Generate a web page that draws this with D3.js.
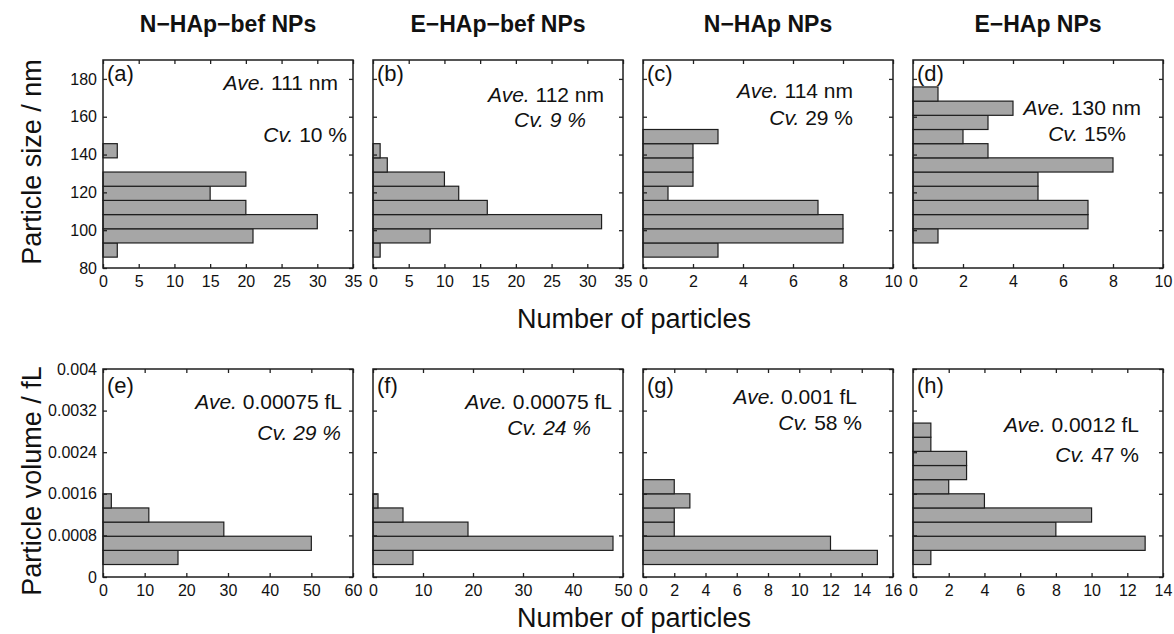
<!DOCTYPE html>
<html>
<head>
<meta charset="utf-8">
<script src="https://cdn.jsdelivr.net/npm/d3@7"></script>
<style>
  body { margin: 0; background: #fff; }
  svg text { font-family: "Liberation Sans", Arial, sans-serif; fill: #111; }
</style>
</head>
<body>
<svg id="chart" width="1174" height="634"></svg>
<script>
// ---- data ----
const titles = ["N\u2212HAp\u2212bef NPs", "E\u2212HAp\u2212bef NPs", "N\u2212HAp NPs", "E\u2212HAp NPs"];
const letters = ["(a)", "(b)", "(c)", "(d)", "(e)", "(f)", "(g)", "(h)"];

// size histograms, 7.5 nm bins starting at 85.75 nm (counts from the bottom bin up)
const sizeBinStart = 85.75, sizeBinWidth = 7.5;
const sizeCountsA = [2, 21, 30, 20, 15, 20, 0, 2];
const sizeCountsB = [1, 8, 32, 16, 12, 10, 2, 1];
const sizeCountsC = [3, 8, 8, 7, 1, 2, 2, 2, 3];
const sizeCountsD = [0, 1, 7, 7, 5, 5, 8, 3, 2, 3, 4, 1];

// volume histograms, bins starting at 0.00024 fL
const volBinStart = 0.00024, volBinWidth = 0.000272;
const volCountsE = [18, 50, 29, 11, 2];
const volCountsF = [8, 48, 19, 6, 1];
const volCountsG = [15, 12, 2, 2, 3, 2];
const volCountsH = [1, 13, 8, 10, 4, 2, 3, 3, 1, 1];

const sizeDomain = [80, 190];
const sizeTicks = [80, 100, 120, 140, 160, 180];
const volDomain = [0, 0.004];
const volTicks = [0, 0.0008, 0.0016, 0.0024, 0.0032, 0.004];
const volTickLabels = ["0", "0.0008", "0.0016", "0.0024", "0.0032", "0.004"];

const countMax = [35, 35, 10, 10, 60, 50, 16, 14];
const countStep = [5, 5, 2, 2, 10, 10, 2, 2];

const aveLabels = ["111 nm", "112 nm", "114 nm", "130 nm", "0.00075 fL", "0.00075 fL", "0.001 fL", "0.0012 fL"];
const cvLabels = ["10 %", "9 %", "29 %", "15%", "29 %", "24 %", "58 %", "47 %"];
const cvItalic = [false, true, false, false, true, true, false, false];

// ---- layout ----
let colX = [103, 373, 643, 913];
let rowY = [60, 369];
let plotW = 250, plotH = 208;
// annotation anchors (right edge, centre y) relative to each panel
let notePos = [
  [235, 23, 244, 75], [231, 35, 213, 60], [210, 31, 210, 58], [228, 48, 213, 74],
  [239, 33, 238, 64], [239, 33, 218, 59], [214, 28, 219, 54], [226, 56, 226, 86]
];

const svg = d3.select("#chart");

const panels = [
  { counts: sizeCountsA, start: sizeBinStart, w: sizeBinWidth },
  { counts: sizeCountsB, start: sizeBinStart, w: sizeBinWidth },
  { counts: sizeCountsC, start: sizeBinStart, w: sizeBinWidth },
  { counts: sizeCountsD, start: sizeBinStart, w: sizeBinWidth },
  { counts: volCountsE, start: volBinStart, w: volBinWidth },
  { counts: volCountsF, start: volBinStart, w: volBinWidth },
  { counts: volCountsG, start: volBinStart, w: volBinWidth },
  { counts: volCountsH, start: volBinStart, w: volBinWidth }
];

function styleAxis(g, showLabels) {
  g.select(".domain").remove();
  g.selectAll(".tick line").attr("stroke", "#222").attr("stroke-width", 1.3);
  g.selectAll(".tick text")
    .attr("font-size", 16)
    .attr("font-family", "Liberation Sans, Arial, sans-serif")
    .attr("fill", "#222");
  if (!showLabels) g.selectAll(".tick text").remove();
}

panels.forEach(function (p, i) {
  let row = i < 4 ? 0 : 1;
  let col = i % 4;
  let g = svg.append("g").attr("transform", `translate(${colX[col]}, ${rowY[row]})`);

  let x = d3.scaleLinear().domain([0, countMax[i]]).range([0, plotW]);
  let y = d3.scaleLinear().domain(row === 0 ? sizeDomain : volDomain).range([plotH, 0]);
  let yTicks = row === 0 ? sizeTicks : volTicks;

  let bins = p.counts
    .map((n, k) => ({ lo: p.start + k * p.w, hi: p.start + (k + 1) * p.w, n: n }))
    .filter((d) => d.n > 0);

  g.append("g")
    .selectAll("rect")
    .data(bins)
    .enter()
    .append("rect")
    .attr("x", x(0))
    .attr("y", (d) => y(d.hi))
    .attr("width", (d) => x(d.n) - x(0))
    .attr("height", (d) => y(d.lo) - y(d.hi))
    .attr("fill", "#a6a6a6")
    .attr("stroke", "#1e1e1e")
    .attr("stroke-width", 1.2);

  // axes, ticks pointing inward
  let xTicks = d3.range(0, countMax[i] + countStep[i] / 2, countStep[i]);
  g.append("g")
    .attr("transform", `translate(0, ${plotH})`)
    .call(d3.axisBottom(x).tickValues(xTicks).tickSizeInner(-4).tickSizeOuter(0).tickPadding(8))
    .call(styleAxis, true);
  g.append("g")
    .call(d3.axisTop(x).tickValues(xTicks).tickSizeInner(-4).tickSizeOuter(0))
    .call(styleAxis, false);

  let yAxis = d3.axisLeft(y).tickValues(yTicks).tickSizeInner(-4).tickSizeOuter(0).tickPadding(6);
  if (row === 1) yAxis.tickFormat((d, k) => volTickLabels[k]);
  g.append("g").call(yAxis).call(styleAxis, col === 0);
  g.append("g")
    .attr("transform", `translate(${plotW}, 0)`)
    .call(d3.axisRight(y).tickValues(yTicks).tickSizeInner(-4).tickSizeOuter(0))
    .call(styleAxis, false);

  // frame
  g.append("rect")
    .attr("width", plotW)
    .attr("height", plotH)
    .attr("fill", "none")
    .attr("stroke", "#1e1e1e")
    .attr("stroke-width", 1.5);

  // panel letter
  g.append("text")
    .attr("x", 4)
    .attr("y", row === 0 ? 21 : 24)
    .attr("font-size", 22)
    .text(letters[i]);

  // Ave. / Cv. annotations
  let np = notePos[i];
  let ave = g.append("text")
    .attr("x", np[0]).attr("y", np[1]).attr("dy", "0.35em")
    .attr("text-anchor", "end")
    .attr("font-size", 21);
  ave.append("tspan").attr("font-style", "italic").text("Ave.");
  ave.append("tspan").text(" " + aveLabels[i]);

  let cv = g.append("text")
    .attr("x", np[2]).attr("y", np[3]).attr("dy", "0.35em")
    .attr("text-anchor", "end")
    .attr("font-size", 21);
  cv.append("tspan").attr("font-style", "italic").text("Cv.");
  cv.append("tspan").attr("font-style", cvItalic[i] ? "italic" : "normal").text(" " + cvLabels[i]);
});

// column titles
svg.append("g")
  .selectAll("text")
  .data(titles)
  .enter()
  .append("text")
  .attr("x", (d, k) => colX[k] + plotW / 2)
  .attr("y", 32)
  .attr("text-anchor", "middle")
  .attr("font-size", 23)
  .attr("font-weight", "bold")
  .text((d) => d);

// axis titles
svg.append("text")
  .attr("transform", "translate(41, 162) rotate(-90)")
  .attr("text-anchor", "middle")
  .attr("font-size", 27)
  .text("Particle size / nm");
svg.append("text")
  .attr("transform", "translate(41, 481) rotate(-90)")
  .attr("text-anchor", "middle")
  .attr("font-size", 27)
  .text("Particle volume / fL");

[328, 627].forEach(function (yy) {
  svg.append("text")
    .attr("x", 634)
    .attr("y", yy)
    .attr("text-anchor", "middle")
    .attr("font-size", 27)
    .text("Number of particles");
});
</script>
</body>
</html>
